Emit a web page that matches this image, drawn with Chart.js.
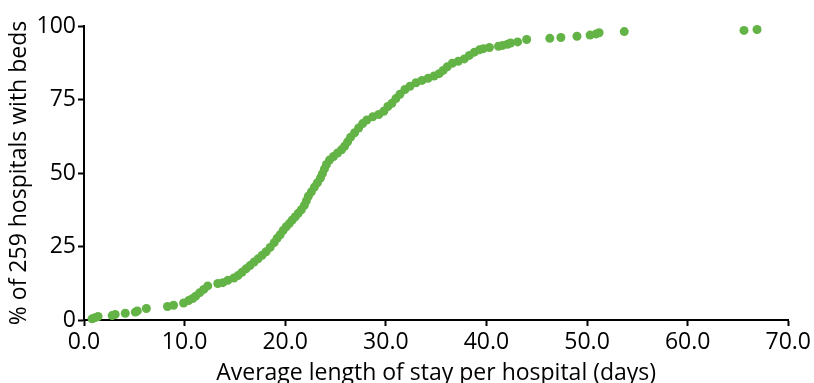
<!DOCTYPE html>
<html>
<head>
<meta charset="utf-8">
<script src="https://cdn.jsdelivr.net/npm/chart.js@4.4.0/dist/chart.umd.min.js"></script>
<style>
  html, body { margin: 0; padding: 0; background: #fff; }
  #wrap { width: 814px; height: 383px; position: relative; }
</style>
</head>
<body>
<div id="wrap"><canvas id="losChart" width="814" height="383"></canvas></div>
<script>
// average length of stay (days)
var stayDays = [
  0.8, 1.1, 1.4, 2.8, 3.1, 4.1, 5.1, 5.3, 6.2, 8.3,
  8.9, 9.9, 10.4, 10.8, 11.1, 11.5, 11.9, 12.3, 13.3, 13.8,
  14.3, 14.9, 15.3, 15.7, 16.1, 16.5, 16.9, 17.3, 17.7, 18.1,
  18.5, 18.9, 19.2, 19.5, 19.8, 20.1, 20.4, 20.7, 21.0, 21.3,
  21.6, 21.9, 22.1, 22.3, 22.6, 22.9, 23.2, 23.5, 23.7, 23.9,
  24.1, 24.4, 24.8, 25.2, 25.6, 25.9, 26.2, 26.5, 26.9, 27.3,
  27.7, 28.1, 28.7, 29.3, 29.8, 30.2, 30.6, 31.0, 31.4, 31.9,
  32.4, 33.0, 33.6, 34.2, 34.8, 35.3, 35.7, 36.1, 36.6, 37.2,
  37.8, 38.3, 38.8, 39.3, 39.7, 40.3, 41.2, 41.6, 42.1, 42.4,
  43.1, 44.0, 46.3, 47.4, 49.0, 50.3, 50.9, 51.2, 53.7, 65.6,
  66.9
];
// cumulative % of hospitals
var pctHospitals = [
  0.4, 0.8, 1.2, 1.5, 1.9, 2.3, 2.7, 3.1, 3.9, 4.6,
  5.0, 5.8, 6.6, 7.3, 8.1, 9.3, 10.4, 11.6, 12.4, 12.7,
  13.5, 14.3, 15.1, 16.2, 17.4, 18.5, 19.7, 20.8, 22.0, 23.2,
  24.7, 26.3, 27.8, 29.0, 30.5, 31.7, 32.8, 34.0, 35.1, 36.3,
  37.5, 39.0, 40.5, 42.1, 43.6, 45.2, 46.7, 48.3, 49.8, 51.4,
  52.9, 54.4, 55.6, 56.8, 57.9, 59.1, 60.6, 62.2, 63.7, 65.3,
  66.8, 68.0, 69.1, 69.9, 71.0, 72.6, 73.7, 75.3, 76.8, 78.4,
  79.5, 80.7, 81.5, 82.2, 83.0, 83.8, 84.9, 86.1, 87.3, 88.0,
  88.8, 90.0, 91.1, 91.9, 92.3, 92.7, 93.1, 93.4, 93.8, 94.2,
  94.6, 95.4, 95.8, 96.1, 96.5, 96.9, 97.3, 97.7, 98.1, 98.5,
  98.8
];
var xTicks = [0, 10, 20, 30, 40, 50, 60, 70];
var yTicks = [0, 25, 50, 75, 100];

var pts = [];
for (var i = 0; i < stayDays.length; i++) {
  pts.push({ x: stayDays[i], y: pctHospitals[i] });
}

var fnt = "'Open Sans', 'Noto Sans', sans-serif";
Chart.defaults.font.family = fnt;
Chart.defaults.color = '#000';

new Chart(document.getElementById('losChart'), {
  type: 'scatter',
  data: {
    datasets: [{
      data: pts,
      backgroundColor: '#63b346',
      borderWidth: 0,
      pointRadius: 4.5,
      pointHoverRadius: 4.5,
      clip: false
    }]
  },
  options: {
    responsive: false,
    animation: false,
    layout: { padding: { top: 26, right: 24, left: 0, bottom: 0 } },
    plugins: { legend: { display: false }, tooltip: { enabled: false } },
    scales: {
      x: {
        type: 'linear',
        min: 0, max: 70,
        afterBuildTicks: function (s) { s.ticks = xTicks.map(function (v) { return { value: v }; }); },
        ticks: { font: { size: 23 }, padding: 3, maxRotation: 0, callback: function (v) { return v.toFixed(1); } },
        grid: { drawOnChartArea: false, color: '#000', tickLength: 6, tickWidth: 2 },
        border: { color: '#000', width: 2 },
        title: { display: true, text: 'Average length of stay per hospital (days)', font: { size: 23 }, padding: { top: 0, bottom: -4 } },
        afterFit: function (s) { s.height = 63; }
      },
      y: {
        min: 0, max: 100,
        afterBuildTicks: function (s) { s.ticks = yTicks.map(function (v) { return { value: v }; }); },
        ticks: { font: { size: 23 }, padding: 2 },
        grid: { drawOnChartArea: false, color: '#000', tickLength: 6, tickWidth: 2 },
        border: { color: '#000', width: 2 },
        title: { display: true, text: '% of 259 hospitals with beds', font: { size: 23 }, padding: { top: 6, bottom: 0 } },
        afterFit: function (s) { s.width = 84; }
      }
    }
  }
});
</script>
</body>
</html>
